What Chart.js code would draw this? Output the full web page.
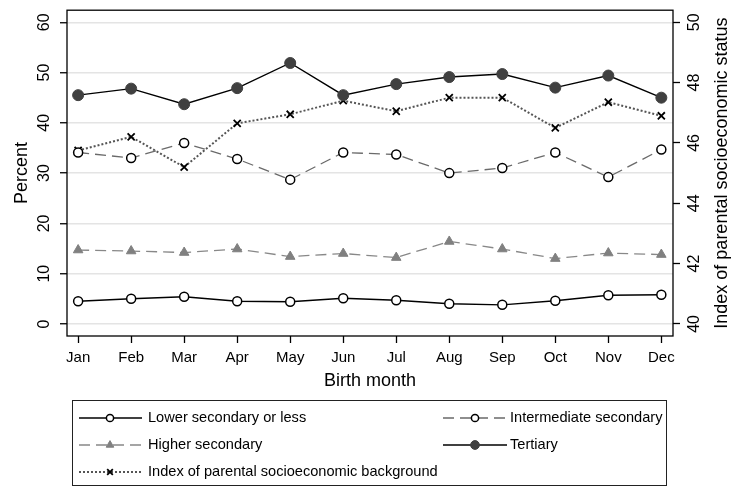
<!DOCTYPE html>
<html lang="en">
<head>
  <meta charset="UTF-8" />
  <title>Birth month</title>
  <script src="https://cdn.jsdelivr.net/npm/chart.js"></script>
  <style>
    body { margin: 0; background: #fff; }
    #wrap { width: 734px; height: 490px; }
  </style>
</head>
<body>
  <div id="wrap"><canvas id="chart" width="734" height="490"></canvas></div>

  <script>
    // data
    const months = ["Jan", "Feb", "Mar", "Apr", "May", "Jun", "Jul", "Aug", "Sep", "Oct", "Nov", "Dec"];
    const lowerSecondary = [4.5, 5.0, 5.4, 4.5, 4.4, 5.1, 4.7, 4.0, 3.8, 4.6, 5.7, 5.8];
    const intermediateSecondary = [34.1, 33.0, 36.0, 32.8, 28.7, 34.1, 33.7, 30.0, 31.0, 34.1, 29.2, 34.7];
    const higherSecondary = [14.7, 14.5, 14.2, 14.9, 13.4, 14.0, 13.2, 16.4, 14.9, 13.0, 14.1, 13.8];
    const tertiary = [45.5, 46.8, 43.7, 46.9, 51.9, 45.5, 47.7, 49.1, 49.7, 47.0, 49.4, 45.0];
    const parentalIndex = [45.75, 46.2, 45.2, 46.65, 46.95, 47.4, 47.05, 47.5, 47.5, 46.5, 47.35, 46.9];
    const percentTicks = [0, 10, 20, 30, 40, 50, 60];
    const indexTicks = [40, 42, 44, 46, 48, 50];

    const FONT = "'Liberation Sans', Arial, sans-serif";
    const pts = arr => arr.map((v, i) => ({ x: i, y: v }));

    const datasets = [
      {
        label: "Lower secondary or less", data: pts(lowerSecondary), yAxisID: "y",
        borderColor: "#000", borderWidth: 1.4, pointStyle: "circle", pointRadius: 4.5,
        pointBackgroundColor: "#fff", pointBorderColor: "#000", pointBorderWidth: 1.5
      },
      {
        label: "Intermediate secondary", data: pts(intermediateSecondary), yAxisID: "y",
        borderColor: "#6a6a6a", borderWidth: 1.3, borderDash: [11, 6], pointStyle: "circle", pointRadius: 4.5,
        pointBackgroundColor: "#fff", pointBorderColor: "#000", pointBorderWidth: 1.5
      },
      {
        label: "Higher secondary", data: pts(higherSecondary), yAxisID: "y",
        borderColor: "#888", borderWidth: 1.3, borderDash: [11, 6], pointStyle: "triangle", pointRadius: 5.5,
        pointBackgroundColor: "#808080", pointBorderColor: "#808080", pointBorderWidth: 1
      },
      {
        label: "Tertiary", data: pts(tertiary), yAxisID: "y",
        borderColor: "#000", borderWidth: 1.4, pointStyle: "circle", pointRadius: 5.5,
        pointBackgroundColor: "#404040", pointBorderColor: "#404040", pointBorderWidth: 1
      },
      {
        label: "Index of parental socioeconomic background", data: pts(parentalIndex), yAxisID: "y1",
        borderColor: "#555", borderWidth: 2, borderDash: [2, 2], pointStyle: "crossRot", pointRadius: 5,
        pointBackgroundColor: "#000", pointBorderColor: "#000", pointBorderWidth: 1.8
      }
    ];

    // frame, rotated tick labels, axis titles and the boxed legend
    const decor = {
      id: "decor",
      afterDraw(chart) {
        const ctx = chart.ctx;
        const a = chart.chartArea;
        ctx.save();
        ctx.strokeStyle = "#000";
        ctx.lineWidth = 1.3;
        ctx.strokeRect(a.left, a.top, a.right - a.left, a.bottom - a.top);

        ctx.fillStyle = "#000";
        ctx.textAlign = "center";
        ctx.textBaseline = "middle";
        const rotText = (txt, x, y, font) => {
          ctx.save();
          ctx.translate(x, y);
          ctx.rotate(-Math.PI / 2);
          ctx.font = font;
          ctx.fillText(txt, 0, 0);
          ctx.restore();
        };
        const ys = chart.scales.y, y1 = chart.scales.y1;
        percentTicks.forEach(v => rotText(String(v), 45, ys.getPixelForValue(v), "16px " + FONT));
        indexTicks.forEach(v => rotText(String(v), 695, y1.getPixelForValue(v), "16px " + FONT));
        const midY = (a.top + a.bottom) / 2;
        rotText("Percent", 22, midY, "18px " + FONT);
        rotText("Index of parental socioeconomic status", 722, midY, "18px " + FONT);
        ctx.font = "18px " + FONT;
        ctx.fillText("Birth month", (a.left + a.right) / 2, 381);

        // legend
        ctx.lineWidth = 1;
        ctx.strokeStyle = "#222";
        ctx.strokeRect(72.5, 400.5, 594, 85);
        const slots = [
          { x0: 79, x1: 142, m: 110, t: 148, y: 418 },
          { x0: 443, x1: 507, m: 475, t: 510, y: 418 },
          { x0: 79, x1: 142, m: 110, t: 148, y: 445 },
          { x0: 443, x1: 507, m: 475, t: 510, y: 445 },
          { x0: 79, x1: 142, m: 110, t: 148, y: 472 }
        ];
        chart.data.datasets.forEach((ds, i) => {
          const s = slots[i];
          ctx.save();
          ctx.strokeStyle = ds.borderColor;
          ctx.lineWidth = ds.borderWidth;
          ctx.setLineDash(ds.borderDash || []);
          ctx.beginPath();
          ctx.moveTo(s.x0, s.y);
          ctx.lineTo(s.x1, s.y);
          ctx.stroke();
          ctx.setLineDash([]);
          ctx.fillStyle = ds.pointBackgroundColor;
          ctx.strokeStyle = ds.pointBorderColor;
          ctx.lineWidth = ds.pointBorderWidth;
          Chart.helpers.drawPoint(ctx, {
            pointStyle: ds.pointStyle, radius: ds.pointRadius * 0.8, borderWidth: ds.pointBorderWidth, rotation: 0
          }, s.m, s.y);
          ctx.restore();
          ctx.fillStyle = "#000";
          ctx.textAlign = "left";
          ctx.font = "14.6px " + FONT;
          ctx.fillText(ds.label, s.t, s.y);
        });
        ctx.restore();
      }
    };

    new Chart(document.getElementById("chart"), {
      type: "line",
      data: { datasets: datasets },
      options: {
        responsive: false,
        animation: false,
        layout: { padding: { top: 8, bottom: 100, left: 0, right: 0 } },
        plugins: { legend: { display: false }, tooltip: { enabled: false } },
        scales: {
          x: {
            type: "linear", min: -0.21, max: 11.22,
            afterFit: s => { s.height = 54; },
            ticks: {
              stepSize: 1, includeBounds: false, color: "#000", padding: 6,
              font: { family: FONT, size: 15 },
              callback: v => months[v]
            },
            grid: { drawOnChartArea: false, tickLength: 7, tickColor: "#000", tickWidth: 1.3 },
            border: { display: false }
          },
          y: {
            position: "left", min: -2.4, max: 62.4,
            afterFit: s => { s.width = 67; },
            afterBuildTicks: s => { s.ticks = percentTicks.map(v => ({ value: v })); },
            ticks: { color: "rgba(0,0,0,0)" },
            grid: { color: "#e4e4e4", lineWidth: 1.5, tickLength: 7, tickColor: "#000", tickWidth: 1.3 },
            border: { display: false }
          },
          y1: {
            position: "right", min: 39.6, max: 50.4,
            afterFit: s => { s.width = 61; },
            afterBuildTicks: s => { s.ticks = indexTicks.map(v => ({ value: v })); },
            ticks: { color: "rgba(0,0,0,0)" },
            grid: { drawOnChartArea: false, tickLength: 7, tickColor: "#000", tickWidth: 1.3 },
            border: { display: false }
          }
        }
      },
      plugins: [decor]
    });
  </script>
</body>
</html>
